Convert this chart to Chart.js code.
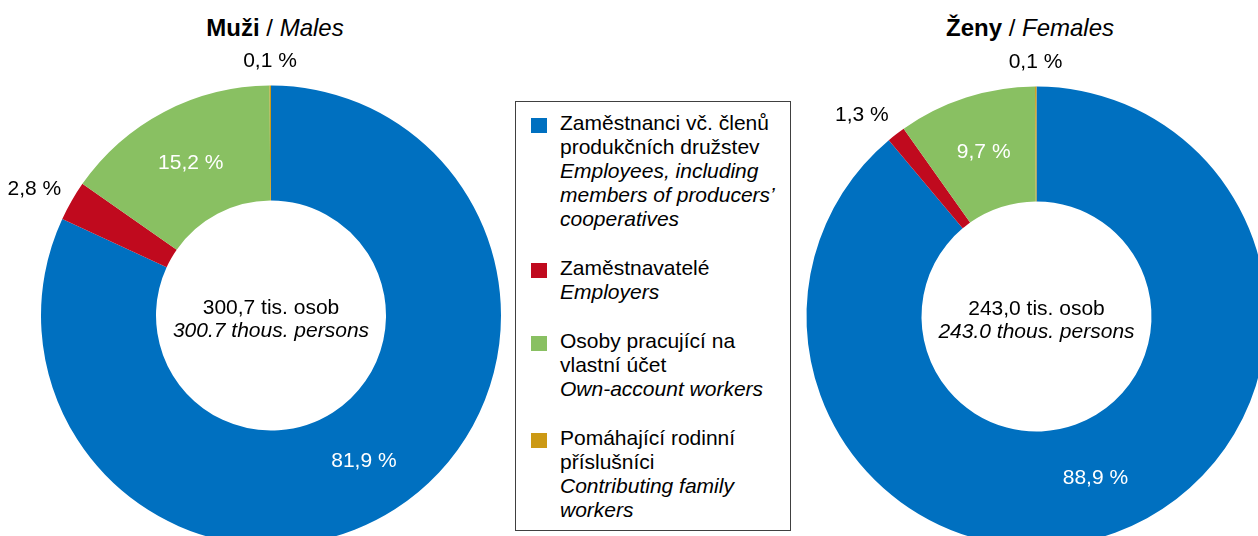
<!DOCTYPE html>
<html>
<head>
<meta charset="utf-8">
<script src="https://cdn.jsdelivr.net/npm/chart.js@4"></script>
<style>
  body { margin: 0; width: 1258px; height: 536px; overflow: hidden; background: #fff; position: relative;
         font-family: "Liberation Sans", Arial, sans-serif; color: #000; }
  canvas { position: absolute; top: 0; }
  .title { position: absolute; top: 13px; width: 400px; text-align: center; font-size: 24px; line-height: 30px; white-space: nowrap; }
  #legend { position: absolute; left: 515px; top: 101px; width: 276px; height: 430px; box-sizing: border-box;
            border: 1px solid #404040; padding: 9px 0 0 44px; font-size: 21px; line-height: 24px; background: #fff; }
  .item { position: relative; margin-bottom: 25px; white-space: nowrap; }
  .box { position: absolute; left: -29px; top: 7px; width: 16px; height: 15px; }
</style>
</head>
<body>
<div class="title" style="left:75px"><b>Muži</b> / <i>Males</i></div>
<div class="title" style="left:830px"><b>Ženy</b> / <i>Females</i></div>
<canvas id="males" width="542" height="631" style="left:0px"></canvas>
<canvas id="females" width="543" height="633" style="left:765px"></canvas>
<div id="legend"></div>
<script>
// categories (cz / en lines)
var categoriesCz = [
    ['Zaměstnanci vč. členů', 'produkčních družstev'],
    ['Zaměstnavatelé'],
    ['Osoby pracující na', 'vlastní účet'],
    ['Pomáhající rodinní', 'příslušníci']
];
var categoriesEn = [
    ['Employees, including', 'members of producers’', 'cooperatives'],
    ['Employers'],
    ['Own-account workers'],
    ['Contributing family', 'workers']
];
var colors = ['#0070C0', '#C00A1E', '#89C062', '#CC9914'];

// shares in %
var malesValues = [81.9, 2.8, 15.2, 0.1];
var femalesValues = [88.9, 1.3, 9.7, 0.1];

// totals in thousands of persons
var malesTotal = 300.7;
var femalesTotal = 243.0;

// legend
var legendHtml = '';
for (var i = 0; i < categoriesCz.length; i++) {
    legendHtml += '<div class="item"><span class="box" style="background:' + colors[i] + '"></span>' +
        categoriesCz[i].join('<br>') + '<br><i>' + categoriesEn[i].join('<br>') + '</i></div>';
}
document.getElementById('legend').innerHTML = legendHtml;

var font = '"Liberation Sans", Arial, sans-serif';

// percent labels + center text
var labelsPlugin = {
    id: 'labels',
    afterDatasetsDraw: function(chart) {
        var ctx = chart.ctx;
        var meta = chart.getDatasetMeta(0);
        var values = chart.data.datasets[0].data;
        ctx.save();
        ctx.font = '21px ' + font;
        ctx.textAlign = 'center';
        ctx.textBaseline = 'middle';
        meta.data.forEach(function(arc, i) {
            var text = values[i].toFixed(1).replace('.', ',') + ' %';
            var p = arc.getProps(['x', 'y', 'startAngle', 'endAngle', 'innerRadius', 'outerRadius'], true);
            var mid = (p.startAngle + p.endAngle) / 2;
            var cos = Math.cos(mid), sin = Math.sin(mid);
            var x, y;
            if (values[i] >= 5) {
                ctx.fillStyle = '#fff';
                var r = (p.innerRadius + p.outerRadius) / 2;
                x = p.x + cos * r;
                y = p.y + sin * r;
            } else {
                // small slices: text box sits just outside the ring
                ctx.fillStyle = '#000';
                var hw = ctx.measureText(text).width / 2;
                var ra = p.outerRadius + 12;
                x = p.x + cos * ra + hw * Math.max(-1, Math.min(1, cos * 3));
                y = p.y + sin * ra + sin * 12;
            }
            ctx.fillText(text, x, y);
        });
        var total = chart.options.plugins.labels.total;
        var cx = (chart.chartArea.left + chart.chartArea.right) / 2;
        var cy = (chart.chartArea.top + chart.chartArea.bottom) / 2;
        ctx.fillStyle = '#000';
        ctx.fillText(total.toFixed(1).replace('.', ',') + ' tis. osob', cx, cy - 7);
        ctx.font = 'italic 21px ' + font;
        ctx.fillText(total.toFixed(1) + ' thous. persons', cx, cy + 16);
        ctx.restore();
    }
};

function makeChart(id, values, total, padding) {
    var ctx = document.getElementById(id).getContext('2d');
    return new Chart(ctx, {
        type: 'doughnut',
        data: {
            labels: categoriesCz.map(function(c) { return c.join(' '); }),
            datasets: [{
                data: values,
                backgroundColor: colors,
                borderWidth: 0,
                offset: 0,
                hoverOffset: 0
            }]
        },
        options: {
            responsive: false,
            animation: false,
            cutout: '50%',
            layout: { padding: padding },
            plugins: {
                legend: { display: false },
                tooltip: { enabled: false },
                labels: { total: total }
            }
        },
        plugins: [labelsPlugin]
    });
}

makeChart('males', malesValues, malesTotal, { left: 41, right: 41, top: 85.5, bottom: 85.5 });
makeChart('females', femalesValues, femalesTotal, { left: 41.5, right: 41.5, top: 86.5, bottom: 86.5 });
</script>
</body>
</html>
